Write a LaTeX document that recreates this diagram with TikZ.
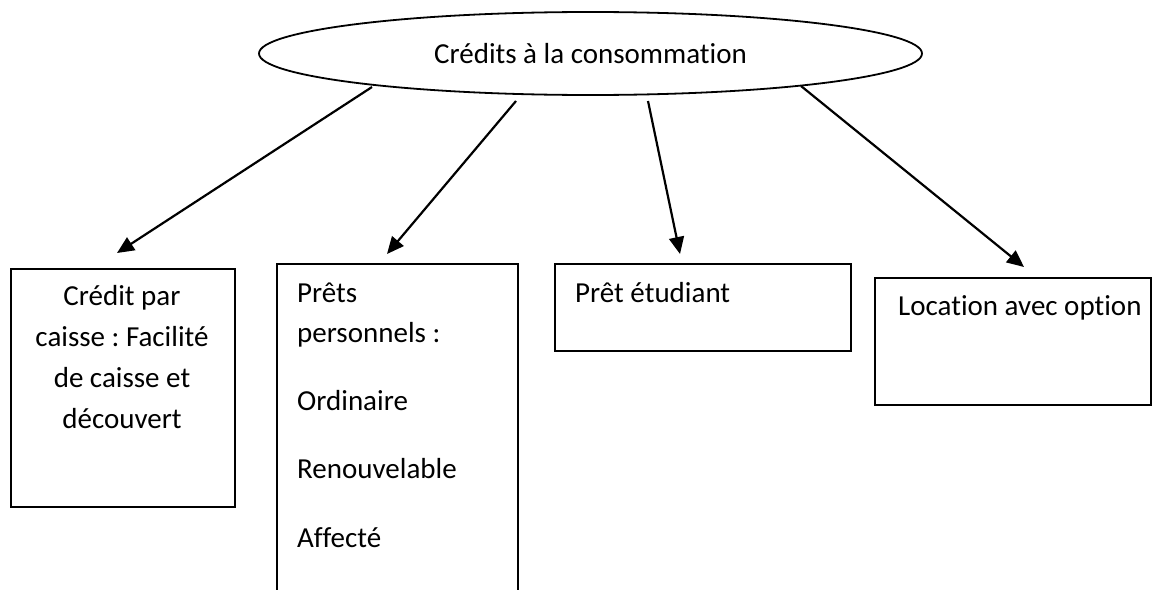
\documentclass[tikz,border=0pt]{standalone}
\usepackage{fontspec}
\setmainfont{Carlito}[RawFeature={-liga}]
\usetikzlibrary{shapes.geometric,arrows.meta}
\frenchspacing
\begin{document}
\begin{tikzpicture}[x=1pt,y=-1pt,
  box/.style={draw, line width=1.8pt, rectangle, inner sep=0pt, anchor=north west},
  lbl/.style={inner sep=0pt, font=\fontsize{29}{41.3}\selectfont},
  arr/.style={line width=2.2pt, -{Triangle[length=17pt,width=15pt]}}]
\useasboundingbox (0,0) rectangle (1159,589);
\clip (0,0) rectangle (1159,589);
% top ellipse
\node[draw, ellipse, line width=1.8pt, minimum width=663pt, minimum height=83pt,
      inner sep=0pt, font=\fontsize{29}{35}\selectfont] (top) at (590.5,53.5) {Crédits à la consommation};
% boxes
\node[box, minimum width=224pt, minimum height=238pt] (b1) at (10,268) {};
\node[box, minimum width=241pt, minimum height=340pt] (b2) at (276,263) {};
\node[box, minimum width=296pt, minimum height=87pt] (b3) at (554,263) {};
\node[box, minimum width=276pt, minimum height=127pt] (b4) at (874,277) {};
% texts
\node[lbl, anchor=base] (t1) at (122,305)
  {\begin{tabular}[t]{@{}c@{}}Crédit par\\caisse : Facilité\\de caisse et\\découvert\end{tabular}};
\node[lbl, anchor=base west, font=\fontsize{29}{40}\selectfont] (t2) at (297,302)
  {\begin{tabular}[t]{@{}l@{}}Prêts\\personnels :\\[28pt]Ordinaire\\[28pt]Renouvelable\\[29pt]Affecté\end{tabular}};
\node[lbl, anchor=base west] (t3) at (575,302) {Prêt étudiant};
\node[lbl, anchor=base west] (t4) at (898,315) {Location avec option};
% arrow ends
\coordinate (s1) at (372,87);   \coordinate (e1) at (117,253);
\coordinate (s2) at (516,101);  \coordinate (e2) at (387,254);
\coordinate (s3) at (648,101);  \coordinate (e3) at (680,254);
\coordinate (s4) at (801,86);   \coordinate (e4) at (1024,267);
\draw[arr] (s1) -- (e1);
\draw[arr] (s2) -- (e2);
\draw[arr] (s3) -- (e3);
\draw[arr] (s4) -- (e4);
\end{tikzpicture}
\end{document}
